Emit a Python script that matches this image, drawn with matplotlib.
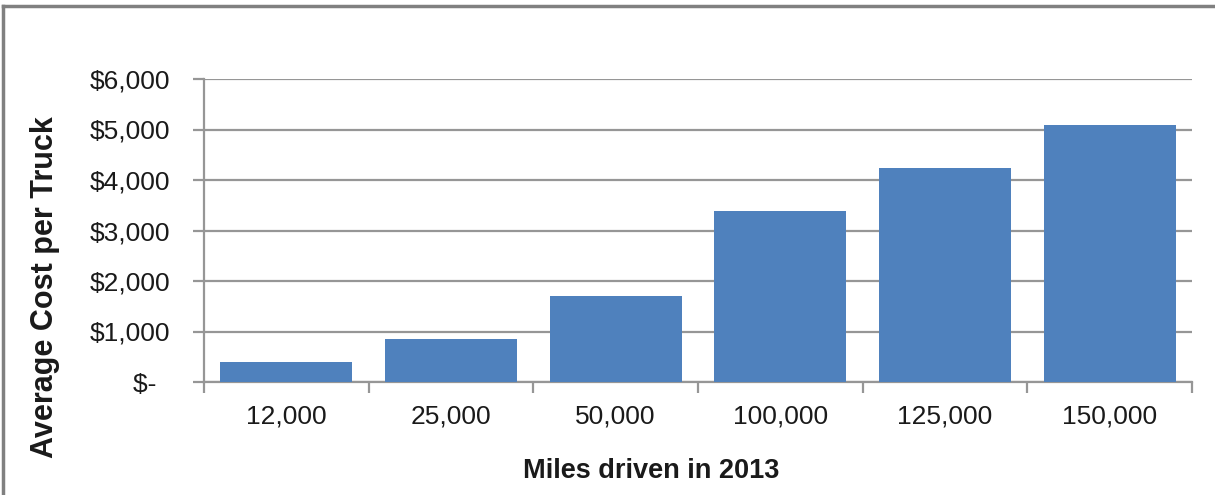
import numpy as np
import matplotlib.pyplot as plt
from matplotlib.lines import Line2D

plt.rcParams['font.family'] = ['Liberation Sans', 'DejaVu Sans']

# mileage bands and average cost per truck
miles = ['12,000', '25,000', '50,000', '100,000', '125,000', '150,000']
cost = [400, 850, 1700, 3380, 4240, 5090]
yticks = [0, 1000, 2000, 3000, 4000, 5000, 6000]
ylabels = ['$-  ', '$1,000', '$2,000', '$3,000', '$4,000', '$5,000', '$6,000']

grey = '#969696'
txt = '#1a1a1a'

fig = plt.figure(figsize=(12.15, 4.95), dpi=100)
ax = fig.add_axes([204 / 1215, 113 / 495, 988 / 1215, 303 / 495])

x = np.arange(len(miles))
ax.bar(x, cost, width=0.8, color='#4F81BD', zorder=3)

ax.set_xlim(-0.5, len(miles) - 0.5)
ax.set_ylim(0, 6000)
ax.set_yticks(yticks)
ax.set_yticklabels(ylabels)
ax.set_xticks(x)
ax.set_xticklabels(miles)
ax.set_xticks(np.arange(len(miles) + 1) - 0.5, minor=True)

ax.yaxis.grid(True, color=grey, linewidth=1.6, zorder=0)
ax.tick_params(axis='y', length=8, width=1.6, color=grey, labelsize=19,
               labelcolor=txt, pad=16)
ax.tick_params(axis='x', which='major', length=0, labelsize=19,
               labelcolor=txt, pad=16)
ax.tick_params(axis='x', which='minor', length=8, width=1.6, color=grey)

for side in ['top', 'right']:
    ax.spines[side].set_visible(False)
for side in ['left', 'bottom']:
    ax.spines[side].set_color(grey)
    ax.spines[side].set_linewidth(1.6)

ax.set_ylabel('Average Cost per Truck', fontsize=22, fontweight='bold',
              color=txt)
ax.set_xlabel('Miles driven in 2013', fontsize=19.5, fontweight='bold',
              color=txt)
ax.yaxis.set_label_coords(-144 / 988, 95 / 303)
ax.xaxis.set_label_coords(447 / 988, -76 / 303)

# outer frame (left and top edges)
fig.add_artist(Line2D([3 / 1215, 3 / 1215], [0, 489 / 495],
                      color='#808080', linewidth=2.5))
fig.add_artist(Line2D([3 / 1215, 1], [489 / 495, 489 / 495],
                      color='#808080', linewidth=2.5))

fig.savefig('out.png', dpi=100)
